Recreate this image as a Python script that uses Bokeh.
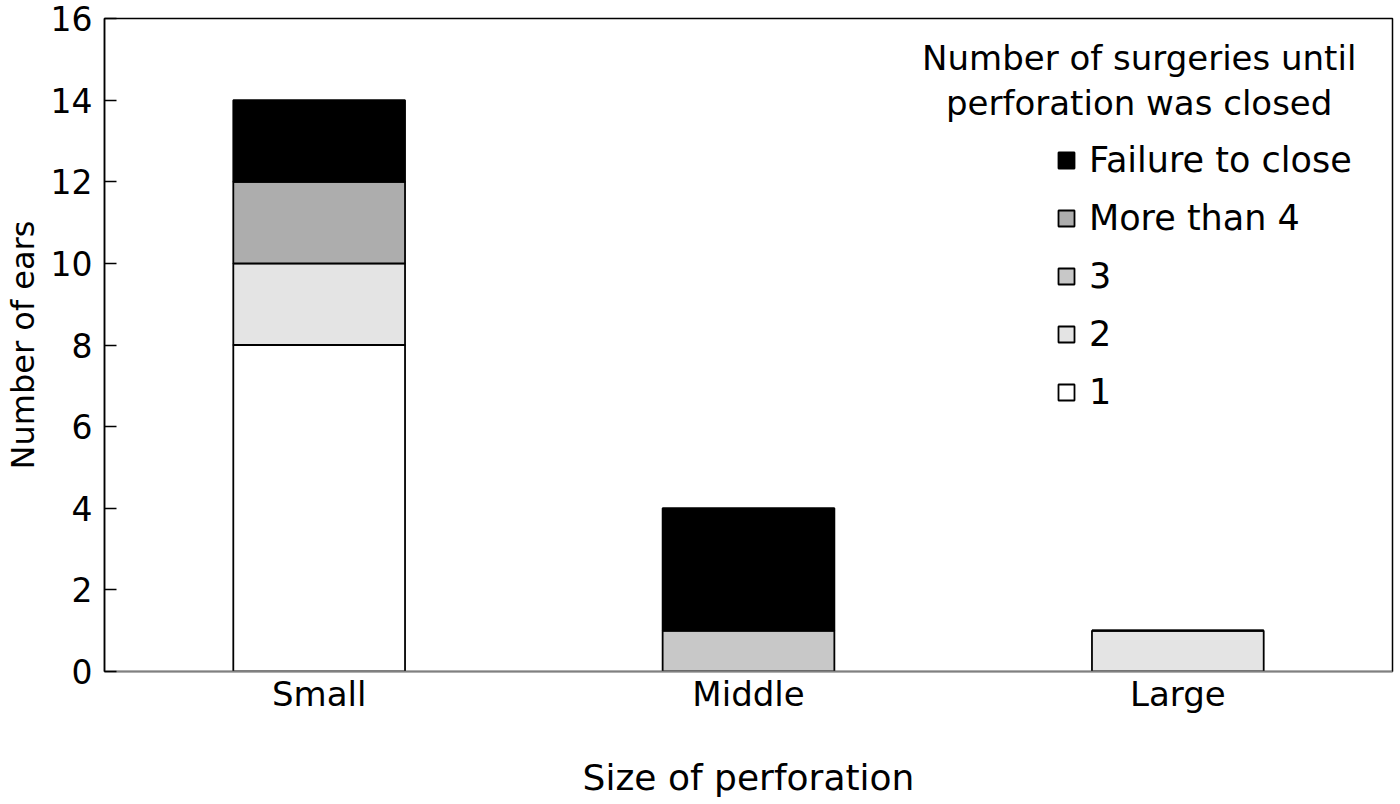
from bokeh.plotting import figure
from bokeh.models import FactorRange, Range1d, Legend, LegendItem, Label, FixedTicker
from bokeh.embed import file_html
from bokeh.resources import INLINE

sizes = ["Small", "Middle", "Large"]
one = [8, 0, 0]
two = [2, 0, 1]
three = [0, 1, 0]
more_than_4 = [2, 0, 0]
failure = [2, 3, 0]
series_names = ["1", "2", "3", "More than 4", "Failure to close"]
series_keys = ["one", "two", "three", "more", "fail"]
colors = ["#ffffff", "#e4e4e4", "#c8c8c8", "#adadad", "#000000"]
y_ticks = [0, 2, 4, 6, 8, 10, 12, 14, 16]

FONT = "DejaVu Sans"

data = dict(size=sizes, one=one, two=two, three=three, more=more_than_4, fail=failure)

p = figure(x_range=FactorRange(*sizes, range_padding=0), y_range=Range1d(0, 16),
           frame_width=1288, frame_height=653,
           min_border_left=94, min_border_right=2, min_border_top=18, min_border_bottom=117,
           output_backend="svg", toolbar_location=None, tools="")

rs = p.vbar_stack(series_keys, x="size", width=0.4, source=data, color=colors,
                  line_color="black", line_width=1.8)

p.xgrid.visible = False
p.ygrid.visible = False
p.outline_line_color = "black"
p.outline_line_width = 1.5
p.background_fill_color = "white"
p.border_fill_color = "white"

ya = p.yaxis[0]
ya.ticker = FixedTicker(ticks=y_ticks)
ya.major_tick_in = 12
ya.major_tick_out = 0
ya.minor_tick_line_color = None
ya.axis_line_color = "black"
ya.axis_line_width = 1.5
ya.major_tick_line_width = 1.5
ya.major_label_text_font = FONT
ya.major_label_text_font_size = "33px"
ya.major_label_text_color = "black"
ya.major_label_standoff = 12
ya.axis_label = "Number of ears"
ya.axis_label_text_font = FONT
ya.axis_label_text_font_size = "32px"
ya.axis_label_text_font_style = "normal"
ya.axis_label_text_color = "black"
ya.axis_label_standoff = 6

xa = p.xaxis[0]
xa.major_tick_line_color = None
xa.minor_tick_line_color = None
xa.axis_line_color = "#808080"
xa.axis_line_width = 1.5
xa.major_label_text_font = FONT
xa.major_label_text_font_size = "34px"
xa.major_label_text_color = "black"
xa.major_label_standoff = -4
xa.axis_label = "Size of perforation"
xa.axis_label_text_font = FONT
xa.axis_label_text_font_size = "36px"
xa.axis_label_text_font_style = "normal"
xa.axis_label_text_color = "black"
xa.axis_label_standoff = 40

items = [LegendItem(label=series_names[i], renderers=[rs[i]]) for i in reversed(range(5))]
legend = Legend(items=items, location=(952, 259), orientation="vertical",
                glyph_width=20, glyph_height=20, label_standoff=13,
                label_text_font=FONT, label_text_font_size="35px", label_text_color="black",
                label_height=40, spacing=18, padding=0, margin=0,
                border_line_color=None, background_fill_alpha=0)
p.add_layout(legend, "center")

for txt, yv in [("Number of surgeries until", 15.04), ("perforation was closed", 13.92)]:
    p.add_layout(Label(x=2.41, y=yv, text=txt, text_align="center", text_baseline="middle",
                       text_font=FONT, text_font_size="34px", text_color="black"))

open("out.html", "w").write(file_html(p, INLINE))
